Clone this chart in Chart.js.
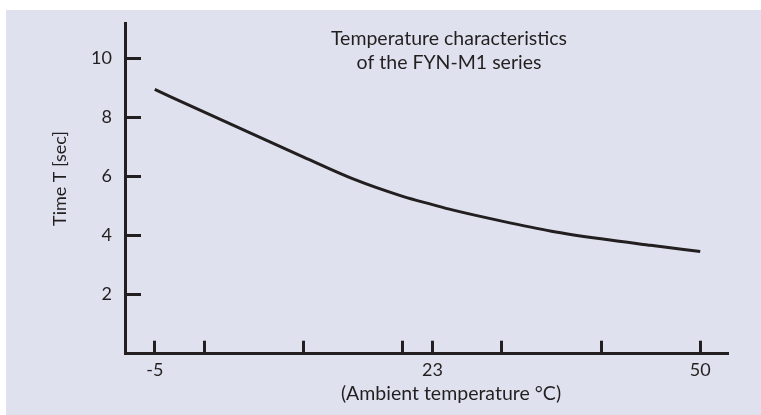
<!DOCTYPE html>
<html>
<head>
<meta charset="utf-8">
<script src="https://cdn.jsdelivr.net/npm/chart.js@4/dist/chart.umd.min.js"></script>
<style>
  html, body { margin: 0; padding: 0; background: #ffffff; }
  #wrap { position: absolute; left: 6px; top: 10px; width: 755px; height: 405px; background: #dfe2ee; }
  canvas { display: block; }
</style>
</head>
<body>
<div id="wrap"><canvas id="c" width="755" height="405"></canvas></div>
<script>
// ---- data ----
const temperatures = [-5, 0, 5, 10, 15, 20, 23, 25, 30, 35, 40, 45, 50];
const timeValues   = [8.95, 8.18, 7.42, 6.66, 5.92, 5.33, 5.05, 4.87, 4.49, 4.15, 3.89, 3.67, 3.46];
const xTickValues  = [-5, 0, 10, 20, 23, 30, 40, 50];
const xTickLabels  = ['-5', '', '', '', '23', '', '', '50'];
const yTickValues  = [2, 4, 6, 8, 10];
const yTickLabels  = ['2', '4', '6', '8', '10'];
const chartTitle   = ['Temperature characteristics', 'of the FYN-M1 series'];
const xAxisTitle   = '(Ambient temperature \u00B0C)';
const yAxisTitle   = 'Time T [sec]';

const INK = '#231f20';
const FONT = 'Lato, "Open Sans", sans-serif';

const textPlugin = {
  id: 'texts',
  afterDraw(chart) {
    const ctx = chart.ctx;
    ctx.save();
    ctx.fillStyle = INK;
    ctx.font = '19.5px ' + FONT;
    ctx.textAlign = 'center';
    ctx.textBaseline = 'alphabetic';
    // chart title inside plot
    ctx.fillText(chartTitle[0], 443, 35);
    ctx.fillText(chartTitle[1], 443, 59);
    // x axis title
    ctx.fillText(xAxisTitle, 445, 390);
    // y axis title
    ctx.font = '18px ' + FONT;
    ctx.translate(54, 168.5);
    ctx.rotate(-Math.PI / 2);
    ctx.textBaseline = 'middle';
    ctx.fillText(yAxisTitle, 0, 0);
    ctx.restore();
  }
};

function noPad(scale) {
  scale.paddingTop = 0; scale.paddingBottom = 0;
  scale.paddingLeft = 0; scale.paddingRight = 0;
}

new Chart(document.getElementById('c'), {
  type: 'line',
  data: {
    datasets: [{
      data: temperatures.map((t, i) => ({ x: t, y: timeValues[i] })),
      borderColor: INK,
      borderWidth: 3,
      pointRadius: 0,
      fill: false,
      cubicInterpolationMode: 'monotone',
      borderCapStyle: 'butt'
    }]
  },
  options: {
    responsive: false,
    animation: false,
    devicePixelRatio: 1,
    layout: { padding: { left: 0, top: 13, right: 34, bottom: 0 } },
    plugins: { legend: { display: false }, tooltip: { enabled: false }, title: { display: false } },
    scales: {
      x: {
        type: 'linear',
        min: -8,
        max: 52.7,
        afterBuildTicks(scale) { scale.ticks = xTickValues.map(v => ({ value: v })); },
        afterFit(scale) { scale.height = 61.3; noPad(scale); },
        ticks: {
          autoSkip: false,
          maxRotation: 0,
          color: INK,
          font: { family: FONT, size: 18 },
          padding: 19,
          callback(value) { const i = xTickValues.indexOf(value); return i >= 0 ? xTickLabels[i] : ''; }
        },
        grid: { drawOnChartArea: false, drawTicks: true, tickLength: -13, color: INK, lineWidth: 3 },
        border: { display: true, color: INK, width: 3 }
      },
      y: {
        type: 'linear',
        min: 0,
        max: 11.2,
        afterBuildTicks(scale) { scale.ticks = yTickValues.map(v => ({ value: v })); },
        afterFit(scale) { scale.width = 119; noPad(scale); },
        ticks: {
          autoSkip: false,
          color: INK,
          font: { family: FONT, size: 18 },
          padding: 29,
          callback(value) { const i = yTickValues.indexOf(value); return i >= 0 ? yTickLabels[i] : ''; }
        },
        grid: { drawOnChartArea: false, drawTicks: true, tickLength: -16, color: INK, lineWidth: 3 },
        border: { display: true, color: INK, width: 3 }
      }
    }
  },
  plugins: [textPlugin]
});
</script>
</body>
</html>
